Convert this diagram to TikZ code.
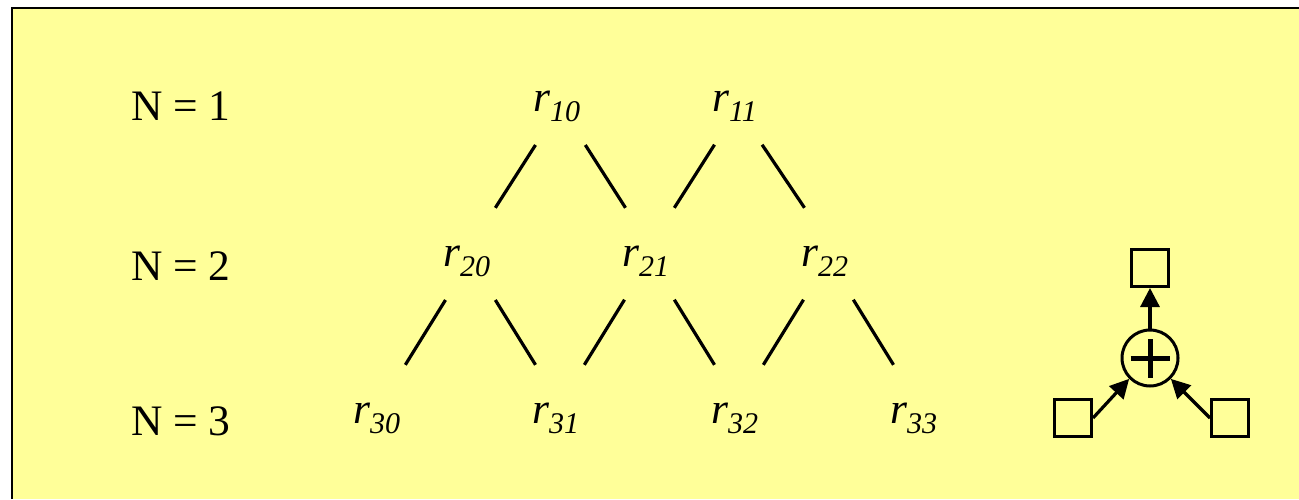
\documentclass[tikz,border=0pt]{standalone}
\usepackage{fontspec}
\setmainfont{Liberation Serif}
\usetikzlibrary{arrows.meta}
\definecolor{panel}{HTML}{FFFF99}
\newcommand{\idx}[1]{\raisebox{-10pt}{\fontsize{30}{30}\selectfont #1}}

\begin{document}
\begin{tikzpicture}[x=1pt, y=-1pt,
  lvl/.style={anchor=base west, inner sep=0pt, font=\fontsize{43.5}{50}\selectfont},
  rterm/.style={anchor=base west, inner sep=0pt, font=\fontsize{43.5}{50}\selectfont\itshape},
  branch/.style={line width=3.2pt},
  box/.style={draw, line width=3pt, minimum width=37pt, minimum height=37pt, inner sep=0pt},
  adder/.style={draw, circle, line width=3pt, minimum size=56pt, inner sep=0pt},
  arr/.style={-{Triangle[length=19pt,width=19pt]}, line width=3.2pt}
]
\useasboundingbox (0,0) rectangle (1299,499);
\fill[panel] (12,8) rectangle (1299,499);
\draw[line width=2.2pt] (12,499) -- (12,8) -- (1299,8);

\node[lvl] (n1) at (131,120) {N = 1};
\node[lvl] (n2) at (131,280) {N = 2};
\node[lvl] (n3) at (131,435) {N = 3};

\node[rterm] (r10) at (533,111) {r\idx{10}};
\node[rterm] (r11) at (712,111) {r\idx{11}};
\node[rterm] (r20) at (443,266) {r\idx{20}};
\node[rterm] (r21) at (622,266) {r\idx{21}};
\node[rterm] (r22) at (801,266) {r\idx{22}};
\node[rterm] (r30) at (353,423) {r\idx{30}};
\node[rterm] (r31) at (532,423) {r\idx{31}};
\node[rterm] (r32) at (711,423) {r\idx{32}};
\node[rterm] (r33) at (890,423) {r\idx{33}};

\foreach \p/\c in {10/20,11/21,20/30,21/31,22/32}
  \draw[branch] ([xshift=2.5pt,yshift=-23.5pt]r\p.south west) -- ([xshift=5pt,yshift=37.5pt]r\c.north east);
\foreach \p/\c in {10/21,11/22,20/31,21/32,22/33}
  \draw[branch] ([xshift=5pt,yshift=-23.5pt]r\p.south east) -- ([xshift=3.5pt,yshift=37.5pt]r\c.north west);

\node[adder] (sum) at (1150,358) {};
\draw[line width=5pt] ([xshift=-19.5pt]sum.center) -- ([xshift=19.5pt]sum.center);
\draw[line width=5pt] ([yshift=-19.5pt]sum.center) -- ([yshift=19.5pt]sum.center);
\node[box] (out) at (1150,268) {};
\node[box] (inA) at (1073,418) {};
\node[box] (inB) at (1230,418) {};
\draw[arr] (sum) -- (out);
\draw[arr] (inA.east) -- (sum.225);
\draw[arr] (inB.west) -- (sum.-45);

\end{tikzpicture}
\end{document}
